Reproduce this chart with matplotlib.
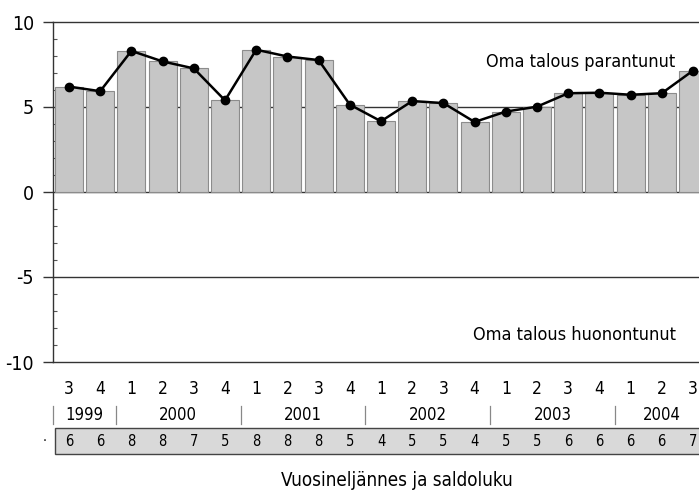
import numpy as np
import matplotlib.pyplot as plt
from matplotlib.transforms import blended_transform_factory
from matplotlib.patches import Rectangle

plt.rcParams['font.family'] = ['DejaVu Sans']
plt.rcParams['font.stretch'] = 'condensed'
plt.rcParams['axes.unicode_minus'] = False

# Data
quarters = ["3", "4", "1", "2", "3", "4", "1", "2", "3", "4", "1", "2", "3", "4",
            "1", "2", "3", "4", "1", "2", "3"]
years = ["1999", "2000", "2001", "2002", "2003", "2004"]
year_quarters = [2, 4, 4, 4, 4, 3]
values = [6.2, 5.93, 8.3, 7.68, 7.27, 5.39, 8.37, 7.97, 7.76, 5.14, 4.16,
          5.35, 5.23, 4.12, 4.73, 5.02, 5.81, 5.84, 5.72, 5.81, 7.14]
saldo = [6, 6, 8, 8, 7, 5, 8, 8, 8, 5, 4, 5, 5, 4, 5, 5, 6, 6, 6, 6, 7]

x = np.arange(len(values))

fig = plt.figure(figsize=(6.99, 4.93), dpi=100, facecolor="white")
W, H = 699, 493
left_px, slot_px = 53.4, 31.2
ax = fig.add_axes([left_px / W, 1 - 362 / H, 1 - left_px / W, 340 / H])

xmax = -0.5 + (W - left_px) / slot_px
ax.set_xlim(-0.5, xmax)
ax.set_ylim(-10, 10)

# grid lines behind bars
for yv in [5, 0, -5]:
    ax.axhline(yv, color="#333333", lw=1.0, zorder=0)

ax.bar(x, values, width=0.9, color="#c6c6c6", edgecolor="#8c8c8c",
       linewidth=0.8, zorder=2)
ax.plot(x, values, color="black", lw=1.8, marker="o", markersize=6, zorder=3)

ax.spines["right"].set_visible(False)
for side in ["top", "bottom", "left"]:
    ax.spines[side].set_color("#333333")
    ax.spines[side].set_linewidth(1.0)

ax.set_yticks([-10, -5, 0, 5, 10])
ax.set_yticks(np.arange(-10, 11, 1), minor=True)
ax.tick_params(axis="y", which="major", direction="out", length=7, width=1.0,
               color="#333333", labelsize=14, pad=7)
ax.tick_params(axis="y", which="minor", direction="in", length=3, width=0.8,
               color="#555555")
ax.set_xticks([])

ax.text(19.42, 7.37, "Oma talous parantunut", ha="right", va="baseline",
        fontsize=13, zorder=4)
ax.text(19.45, -8.68, "Oma talous huonontunut", ha="right", va="baseline",
        fontsize=13, zorder=4)

# rows below the chart
tr = blended_transform_factory(ax.transData, fig.transFigure)
for xi, q in zip(x, quarters):
    ax.text(xi, 1 - 389 / H, q, transform=tr, ha="center", va="center",
            fontsize=12.5, clip_on=False)

start = 0
for yr, n in zip(years, year_quarters):
    ax.text(start + (n - 1) / 2, 1 - 415 / H, yr, transform=tr, ha="center",
            va="center", fontsize=12, clip_on=False)
    ax.plot([start - 0.5, start - 0.5], [1 - 406 / H, 1 - 424 / H],
            transform=tr, color="#888888", lw=0.9, clip_on=False)
    start += n

box = Rectangle((-0.45, 1 - 454 / H), xmax + 1, 26.5 / H, transform=tr,
                facecolor="#d9d9d9", edgecolor="#444444", lw=1.0, clip_on=False)
ax.add_patch(box)
for xi, s in zip(x, saldo):
    ax.text(xi, 1 - 441 / H, str(s), transform=tr, ha="center", va="center",
            fontsize=10.5, clip_on=False)
fig.text(45 / W, 1 - 441 / H, "·", ha="center", va="center", fontsize=10)

fig.text(397 / W, 1 - 481 / H, "Vuosineljännes ja saldoluku", ha="center",
         va="center", fontsize=13.5)

fig.savefig("out.png", dpi=100, facecolor="white")
